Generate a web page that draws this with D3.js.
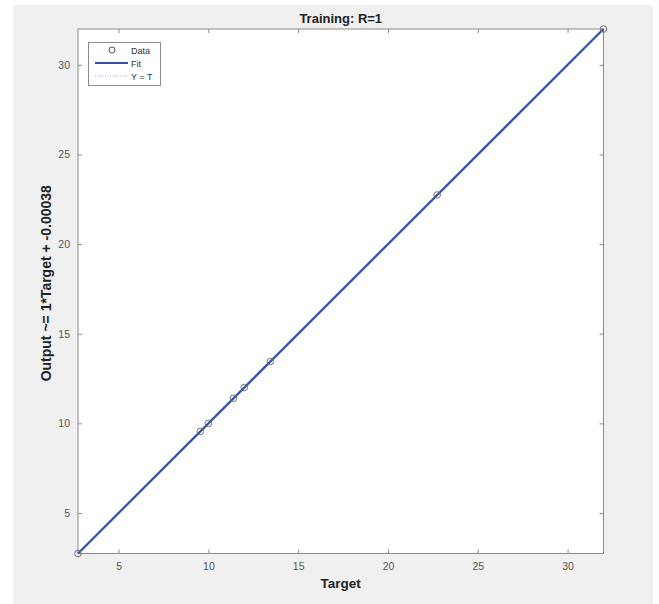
<!DOCTYPE html>
<html><head><meta charset="utf-8">
<script src="https://cdn.jsdelivr.net/npm/d3@7"></script>
<style>body{margin:0;background:#fff;}svg{display:block;font-family:Arial,"Liberation Sans",sans-serif;}</style>
</head><body>
<svg id="c" width="659" height="604"></svg>
<script>
const targets = [2.74, 9.55, 10.0, 11.4, 12.0, 13.45, 22.74, 32.0];
const outputs = [2.74, 9.55, 10.0, 11.4, 12.0, 13.45, 22.74, 32.0];
const xTicks = [5, 10, 15, 20, 25, 30];
const yTicks = [5, 10, 15, 20, 25, 30];
const fitSlope = 1, fitIntercept = -0.00038;
const legendLabels = ["Data", "Fit", "Y = T"];

const svg = d3.select("#c");
svg.append("rect").attr("x",13).attr("y",5).attr("width",640).attr("height",599).attr("fill","#f0f0f0");

const L=78,R=603.5,T=29,B=553.5;
const lo = d3.min(targets), hi = d3.max(targets);
const x = d3.scaleLinear().domain([lo,hi]).range([L,R]);
const y = d3.scaleLinear().domain([lo,hi]).range([B,T]);

svg.append("rect").attr("x",L).attr("y",T).attr("width",R-L).attr("height",B-T).attr("fill","#fff");

const axisCol="#8a8a8a", txtCol="#555";
function styleAxis(g){g.select(".domain").remove();g.selectAll("line").attr("stroke",axisCol);g.selectAll("text").attr("fill",txtCol).style("font-size","10.5px");}
svg.append("g").attr("transform",`translate(0,${B})`).call(d3.axisBottom(x).tickValues(xTicks).tickSize(-4).tickPadding(9)).call(styleAxis);
svg.append("g").attr("transform",`translate(0,${T})`).call(d3.axisTop(x).tickValues(xTicks).tickSize(-4).tickFormat("")).call(styleAxis);
svg.append("g").attr("transform",`translate(${L},0)`).call(d3.axisLeft(y).tickValues(yTicks).tickSize(4).tickPadding(4)).call(g=>{styleAxis(g);g.selectAll("line").attr("x2",4);});
svg.append("g").attr("transform",`translate(${R},0)`).call(d3.axisRight(y).tickValues(yTicks).tickSize(-4).tickFormat("")).call(styleAxis);
svg.append("rect").attr("x",L).attr("y",T).attr("width",R-L).attr("height",B-T).attr("fill","none").attr("stroke",axisCol).attr("stroke-width",1);

const plot = svg.append("g");
// Y = T
plot.append("line").attr("x1",x(lo)).attr("y1",y(lo)).attr("x2",x(hi)).attr("y2",y(hi))
  .attr("stroke","#9aa6d8").attr("stroke-width",1).attr("stroke-dasharray","1,2");
// Fit
plot.append("line").attr("x1",x(lo)).attr("y1",y(fitSlope*lo+fitIntercept)).attr("x2",x(hi)).attr("y2",y(fitSlope*hi+fitIntercept))
  .attr("stroke","#2f4fa8").attr("stroke-width",2.2);
// Data
plot.selectAll("circle.d").data(targets).join("circle").attr("class","d")
  .attr("cx",d=>x(d)).attr("cy",(d,i)=>y(outputs[i])).attr("r",3.3)
  .attr("fill","none").attr("stroke","#707070").attr("stroke-width",1);

// Title & labels
svg.append("text").attr("x",(L+R)/2).attr("y",23).attr("text-anchor","middle").attr("font-weight","bold").attr("font-size","13px").attr("fill","#222").text("Training: R=1");
svg.append("text").attr("x",(L+R)/2).attr("y",588).attr("text-anchor","middle").attr("font-weight","bold").attr("font-size","13.5px").attr("fill","#222").text("Target");
svg.append("text").attr("transform",`translate(51,${(T+B)/2-8}) rotate(-90)`).attr("text-anchor","middle").attr("font-weight","bold").attr("font-size","14px").attr("fill","#222").text("Output ~= 1*Target + -0.00038");

// Legend
const lg = svg.append("g");
lg.append("rect").attr("x",88.5).attr("y",42.5).attr("width",72).attr("height",43).attr("fill","#fff").attr("stroke","#8a8a8a");
const rows=[50,63,76];
lg.append("circle").attr("cx",112).attr("cy",rows[0]).attr("r",3).attr("fill","none").attr("stroke","#555");
lg.append("line").attr("x1",95).attr("x2",128).attr("y1",rows[1]).attr("y2",rows[1]).attr("stroke","#2f4fa8").attr("stroke-width",2);
lg.append("line").attr("x1",95).attr("x2",128).attr("y1",rows[2]).attr("y2",rows[2]).attr("stroke","#9aa6d8").attr("stroke-dasharray","1,1.5");
legendLabels.forEach((t,i)=>lg.append("text").attr("x",131).attr("y",rows[i]+3.5).attr("font-size","9px").attr("fill","#333").text(t));
</script>
</body></html>
